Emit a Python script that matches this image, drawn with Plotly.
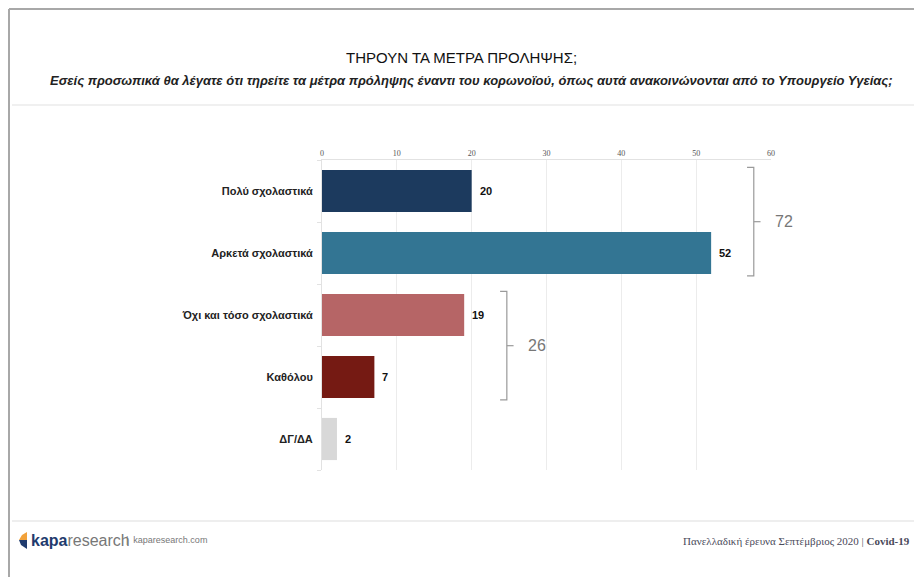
import plotly.graph_objects as go

categories = ["Πολύ σχολαστικά", "Αρκετά σχολαστικά", "Όχι και τόσο σχολαστικά", "Καθόλου", "ΔΓ/ΔΑ"]
values = [20, 52, 19, 7, 2]
colors = ["#1c3a5e", "#337593", "#b66566", "#751a13", "#d8d8d8"]
groups = [[0, 1], [2, 3]]  # bracketed groups (category indices)
x_ticks = [0, 10, 20, 30, 40, 50, 60]

title = "ΤΗΡΟΥΝ ΤΑ ΜΕΤΡΑ ΠΡΟΛΗΨΗΣ;"
subtitle = "Εσείς προσωπικά θα λέγατε ότι τηρείτε τα μέτρα πρόληψης έναντι του κορωνοϊού, όπως αυτά ανακοινώνονται από το Υπουργείο Υγείας;"
footer_right = "Πανελλαδική έρευνα Σεπτέμβριος 2020 | <b>Covid-19</b>"

OFF = 8  # page body margin
W, H = 922 - OFF, 577 - OFF
L, R, T, B = 322 - OFF, 151, 160 - OFF, 107
PW, PH = W - L - R, H - T - B
XMAX = 60


def px(x):  # screen pixel -> paper x
    return (x - OFF - L) / PW


def py(y):  # screen pixel -> paper y
    return (H - B - (y - OFF)) / PH


def dx(v):  # data x -> paper x
    return v / XMAX


fig = go.Figure()
fig.add_trace(go.Bar(
    x=values, y=categories, orientation="h",
    marker=dict(color=colors, line=dict(width=0)),
    width=0.68, hoverinfo="skip",
))

annotations = []
for c, v in zip(categories, values):
    annotations.append(dict(x=v, y=c, xref="x", yref="y", text=f"<b>{v}</b>",
                            showarrow=False, xanchor="left", xshift=6,
                            font=dict(family="Liberation Sans", size=11, color="#111")))

shapes = []
for g in groups:
    vmax = max(values[i] for i in g)
    total = sum(values[i] for i in g)
    bx = vmax + 5.7
    y0 = g[0] - 0.38
    y1 = g[-1] + 0.37
    ym = (y0 + y1) / 2
    hook = 0.9
    shapes.append(dict(type="path", xref="x", yref="y",
                       path=f"M {bx-hook},{y0} L {bx},{y0} L {bx},{y1} L {bx-hook},{y1}",
                       line=dict(color="#9a9a9a", width=1.2)))
    shapes.append(dict(type="line", xref="x", yref="y", x0=bx, x1=bx + hook, y0=ym, y1=ym,
                       line=dict(color="#9a9a9a", width=1.2)))
    annotations.append(dict(x=dx(bx + 2.6), y=ym, xref="paper", yref="y", text=str(total),
                            showarrow=False, xanchor="left",
                            font=dict(family="Liberation Sans", size=16, color="#777")))

# frame and separators
shapes += [
    dict(type="line", xref="paper", yref="paper", x0=px(9), x1=px(922), y0=py(9), y1=py(9),
         line=dict(color="#a8a8a8", width=2)),
    dict(type="line", xref="paper", yref="paper", x0=px(9), x1=px(9), y0=py(9), y1=py(577),
         line=dict(color="#a8a8a8", width=2)),
    dict(type="line", xref="paper", yref="paper", x0=px(12), x1=px(922), y0=py(105), y1=py(105),
         line=dict(color="#f0f0f0", width=2)),
    dict(type="line", xref="paper", yref="paper", x0=px(12), x1=px(922), y0=py(521), y1=py(521),
         line=dict(color="#eeeeee", width=2)),
    # logo mark
    dict(type="path", xref="paper", yref="paper",
         path=f"M {px(27)},{py(532)} L {px(22)},{py(535)} L {px(19)},{py(540)} L {px(27)},{py(540)} Z",
         fillcolor="#f2a23a", line=dict(width=0)),
    dict(type="path", xref="paper", yref="paper",
         path=f"M {px(19)},{py(540)} L {px(27)},{py(540)} L {px(27)},{py(549)} L {px(21)},{py(545)} Z",
         fillcolor="#1f3b6e", line=dict(width=0)),
]

annotations += [
    dict(x=px(461), y=py(58), xref="paper", yref="paper", text=title, showarrow=False,
         xanchor="center", yanchor="middle",
         font=dict(family="Liberation Sans", size=15, color="#111")),
    dict(x=px(471), y=py(80), xref="paper", yref="paper", text=f"<b><i>{subtitle}</i></b>",
         showarrow=False, xanchor="center", yanchor="middle",
         font=dict(family="Liberation Sans", size=13, color="#222")),
    dict(x=px(29), y=py(540), xref="paper", yref="paper",
         text='<span style="color:#1f3b6e"><b>kapa</b></span><span style="color:#777">research</span>',
         showarrow=False, xanchor="left", yanchor="middle",
         font=dict(family="Liberation Sans", size=16)),
    dict(x=px(124), y=py(540), xref="paper", yref="paper", text="|  kaparesearch.com",
         showarrow=False, xanchor="left", yanchor="middle",
         font=dict(family="Liberation Sans", size=9, color="#777")),
    dict(x=px(681), y=py(541), xref="paper", yref="paper", text=footer_right,
         showarrow=False, xanchor="left", yanchor="middle",
         font=dict(family="Liberation Serif", size=11, color="#4a4a5a")),
]

fig.update_layout(
    width=W, height=H, margin=dict(l=L, r=R, t=T, b=B),
    paper_bgcolor="white", plot_bgcolor="white",
    showlegend=False, shapes=shapes, annotations=annotations,
    xaxis=dict(range=[0, XMAX], side="top", tickvals=x_ticks, ticktext=[str(t) for t in x_ticks],
               showgrid=True, gridcolor="#ececec", gridwidth=1, zeroline=False,
               showline=True, linecolor="#e2e2e2", ticks="", fixedrange=True,
               tickfont=dict(family="Liberation Serif", size=8, color="#555")),
    yaxis=dict(categoryorder="array", categoryarray=categories, range=[4.5, -0.5],
               tickvals=categories, ticktext=[f"<b>{c}</b>" for c in categories],
               showline=True, linecolor="#e2e2e2", ticks="outside", tickson="boundaries",
               ticklen=4, tickcolor="#e2e2e2", ticklabelstandoff=6, showgrid=False,
               tickfont=dict(family="Liberation Sans", size=11, color="#222")),
)

fig.write_html("out.html")
